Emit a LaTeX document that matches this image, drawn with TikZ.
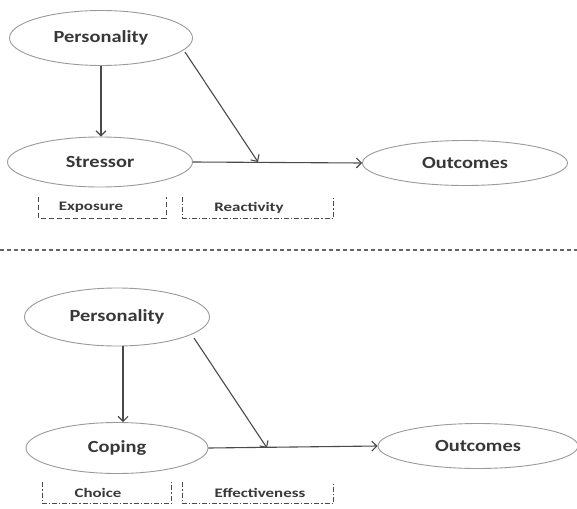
\documentclass[tikz,border=0pt]{standalone}
\usepackage{fontspec}
\setmainfont{Carlito}[FakeStretch=1.2]
\newfontfamily\tagfont{Carlito}[FakeStretch=1.3]
\usetikzlibrary{shapes.geometric,arrows.meta}
\definecolor{ink}{HTML}{383838}
\definecolor{rim}{HTML}{9A9A9A}
\definecolor{wire}{HTML}{4A4A4A}
\begin{document}
\begin{tikzpicture}[x=1pt,y=-1pt,
  oval/.style={ellipse,draw=rim,line width=0.9pt,inner sep=0pt,text=ink,font=\bfseries\fontsize{17}{19}\selectfont},
  link/.style={draw=wire,line width=1.1pt,-{Straight Barb[length=5pt,width=10pt,line width=1.1pt]}},
  frame/.style={inner sep=0pt,minimum height=21pt},
  tag/.style={inner sep=0pt,text=ink,font=\tagfont\bfseries\fontsize{13}{15}\selectfont},
  dashbr/.style={draw=wire,line width=0.8pt,dash pattern=on 5pt off 3pt},
  dotbr/.style={draw=wire,line width=0.8pt,dash pattern=on 5pt off 2pt on 1.2pt off 2pt}]
\useasboundingbox (0,0) rectangle (577,508);
\fill[white] (0,0) rectangle (577,508);

% upper model: stressor exposure and reactivity
\node[oval,minimum width=183pt,minimum height=55pt] (p1) at (101,38) {Personality};
\node[oval,minimum width=185pt,minimum height=50pt] (s1) at (100,162) {Stressor};
\node[oval,minimum width=205pt,minimum height=45pt] (o1) at (465,163) {Outcomes};
\coordinate (m1) at (258,162);
\draw[link] (p1.south -| 101,0) -- (s1.north -| 101,0);
\draw[link] (185,52) -- (m1);
\draw[link] (s1.east) -- (o1.west);

\node[frame,minimum width=127pt] (ex) at (102.5,207.5) {};
\node[frame,minimum width=150pt] (re) at (258,207.5) {};
\node[tag] (ext) at (91,207.5) {Exposure};
\node[tag] (ret) at (249,207.5) {Reactivity};
\draw[dashbr] (ex.north west) -- (ex.south west) -- (ex.south east) -- (ex.north east);
\draw[dotbr] (re.north west) -- (re.south west) -- (re.south east) -- (re.north east);

% divider
\coordinate (d0) at (0,250);
\coordinate (d1) at (577,250);
\draw[draw=wire!85,line width=1.2pt,dash pattern=on 4pt off 3pt] (d0) -- (d1);

% lower model: coping choice and effectiveness
\node[oval,minimum width=185pt,minimum height=58pt] (p2) at (117,317) {Personality};
\node[oval,minimum width=182pt,minimum height=51pt] (c2) at (117,448) {Coping};
\node[oval,minimum width=200pt,minimum height=45pt] (o2) at (478,446) {Outcomes};
\coordinate (m2) at (267,448);
\draw[link] (p2.south -| 123,0) -- (c2.north -| 123,0);
\draw[link] (194,338) -- (m2);
\draw[link] (c2.east) -- (o2.west);

\node[frame,minimum width=128pt] (ch) at (107,493) {};
\node[frame,minimum width=150pt] (ef) at (258,493) {};
\node[tag] (cht) at (98,493) {Choice};
\node[tag] (eft) at (260,493) {Effectiveness};
\draw[dotbr] (ch.north west) -- (ch.south west) -- (ch.south east) -- (ch.north east);
\draw[dotbr] (ef.north west) -- (ef.south west) -- (ef.south east) -- (ef.north east);
\end{tikzpicture}
\end{document}
